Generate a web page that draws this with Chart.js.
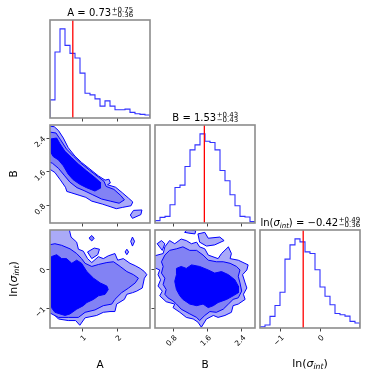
<!DOCTYPE html>
<html lang="en">
<head>
<meta charset="UTF-8">
<title>Corner plot</title>
<script src="https://cdn.jsdelivr.net/npm/chart.js"></script>
<style>
  body { margin: 0; background: #fff; }
  #wrap { position: relative; width: 380px; height: 380px; }
  #wrap canvas { position: absolute; left: 0; top: 0; }
</style>
</head>
<body>
<div id="wrap">
  <canvas id="histA" width="380" height="380"></canvas>
  <canvas id="histB" width="380" height="380"></canvas>
  <canvas id="histLn" width="380" height="380"></canvas>
  <canvas id="panelBA" width="380" height="380"></canvas>
  <canvas id="panelLnA" width="380" height="380"></canvas>
  <canvas id="panelLnB" width="380" height="380"></canvas>
</div>
<script>
// parameter ranges and ticks
const aRange = [0.08, 2.93];
const bRange = [0.38, 2.71];
const lnRange = [-1.5, 1.0];
const aTicks = [1, 2];
const bTicks = [0.8, 1.6, 2.4];
const lnTicks = [-1, 0];

// 1d histograms (20 bins over each range)
const aCounts = [55, 200, 270, 220, 196, 182, 136, 75, 70, 58, 36, 52, 36, 25, 25, 27, 17, 13, 11, 9];
const bCounts = [7, 17, 20, 55, 107, 114, 170, 220, 235, 268, 246, 242, 220, 158, 127, 85, 52, 20, 18, 4];
const lnCounts = [4, 9, 35, 68, 108, 208, 251, 269, 260, 230, 225, 176, 124, 96, 70, 44, 40, 36, 20, 15];

// medians and errors shown in the titles
const medians = [0.73, 1.53, -0.42];
const errUp = [0.75, 0.43, 0.49];
const errDown = [0.36, 0.43, 0.36];

// contour levels, [x, y] in data units
const baOuter = [[0.0,2.69],[0.20,2.67],[0.32,2.58],[0.46,2.40],[0.60,2.17],[0.79,1.97],[0.98,1.82],[1.22,1.66],[1.46,1.50],[1.65,1.40],[1.76,1.42],[1.80,1.33],[1.72,1.29],[1.95,1.23],[2.14,1.10],[2.32,0.97],[2.44,0.88],[2.39,0.79],[2.14,0.75],[1.97,0.72],[1.79,0.77],[1.57,0.83],[1.27,0.90],[1.10,0.99],[0.91,1.04],[0.68,1.10],[0.56,1.13],[0.52,1.23],[0.37,1.41],[0.22,1.58],[0.0,1.70]];
const baMid = [[0.0,2.55],[0.25,2.52],[0.38,2.36],[0.55,2.14],[0.75,1.97],[0.95,1.81],[1.20,1.64],[1.45,1.48],[1.62,1.37],[1.68,1.25],[1.90,1.18],[2.10,1.03],[2.20,0.93],[2.05,0.85],[1.80,0.90],[1.55,0.95],[1.30,1.05],[1.05,1.15],[0.85,1.22],[0.65,1.35],[0.50,1.50],[0.32,1.68],[0.15,1.80],[0.0,1.85]];
const baCore = [[0.11,2.38],[0.27,2.40],[0.36,2.27],[0.50,2.09],[0.70,1.93],[0.89,1.78],[1.12,1.62],[1.36,1.46],[1.51,1.35],[1.52,1.21],[1.36,1.14],[1.12,1.22],[0.93,1.30],[0.74,1.41],[0.60,1.54],[0.46,1.74],[0.32,1.88],[0.17,1.96],[0.11,2.05]];
const baIslands = [[[2.37,0.57],[2.46,0.68],[2.70,0.69],[2.67,0.58],[2.43,0.49]]];

const laOuter = [[0.0,1.05],[0.62,1.05],[0.68,0.82],[0.84,0.69],[0.89,0.51],[1.03,0.46],[1.15,0.27],[1.27,0.17],[1.46,0.32],[1.60,0.27],[1.74,0.34],[1.93,0.40],[2.01,0.23],[2.17,0.27],[2.36,0.15],[2.51,0.09],[2.65,0.02],[2.77,-0.06],[2.84,-0.14],[2.77,-0.23],[2.71,-0.48],[2.55,-0.56],[2.43,-0.60],[2.27,-0.64],[2.20,-0.77],[1.98,-0.89],[1.93,-1.08],[1.79,-1.08],[1.60,-1.10],[1.41,-1.18],[1.08,-1.24],[0.93,-1.43],[0.81,-1.31],[0.60,-1.31],[0.32,-1.27],[0.22,-1.18],[0.0,-0.98]];
const laMid = [[0.0,0.61],[0.22,0.65],[0.41,0.61],[0.65,0.52],[0.84,0.40],[0.98,0.27],[1.08,0.15],[1.27,0.07],[1.46,0.12],[1.70,0.17],[1.89,0.19],[2.08,0.07],[2.27,-0.06],[2.46,-0.14],[2.60,-0.23],[2.51,-0.35],[2.32,-0.48],[2.12,-0.60],[1.93,-0.77],[1.84,-0.89],[1.60,-0.93],[1.36,-1.04],[1.08,-1.10],[0.89,-1.23],[0.60,-1.23],[0.32,-1.23],[0.17,-1.16],[0.0,-1.08]];
const laCore = [[0.12,0.32],[0.27,0.37],[0.41,0.27],[0.55,0.27],[0.70,0.15],[0.84,0.23],[0.98,0.15],[1.13,-0.06],[1.32,-0.23],[1.51,-0.35],[1.70,-0.43],[1.74,-0.52],[1.65,-0.64],[1.46,-0.68],[1.32,-0.77],[1.13,-0.85],[1.03,-0.93],[0.84,-1.02],[0.65,-1.14],[0.51,-1.18],[0.36,-1.14],[0.22,-1.10],[0.12,-0.98]];
const laIslands = [
  [[1.15,0.44],[1.34,0.54],[1.49,0.51],[1.44,0.37],[1.27,0.27]],
  [[2.38,0.71],[2.43,0.82],[2.49,0.71],[2.43,0.59]],
  [[2.22,0.44],[2.27,0.51],[2.32,0.44],[2.27,0.37]]
];
const laSpots = [[[1.19,0.79],[1.27,0.86],[1.34,0.79],[1.27,0.72]]];

const lbOuter = [[0.30,0.32],[0.57,0.40],[0.61,0.57],[0.72,0.73],[0.84,0.65],[0.99,0.77],[1.11,0.73],[1.23,0.65],[1.35,0.69],[1.42,0.57],[1.54,0.52],[1.62,0.36],[1.85,0.27],[1.93,0.40],[2.09,0.57],[2.16,0.40],[2.13,0.27],[2.32,0.23],[2.55,0.11],[2.52,-0.02],[2.42,-0.14],[2.48,-0.35],[2.52,-0.48],[2.44,-0.64],[2.48,-0.77],[2.32,-0.89],[2.20,-0.93],[2.16,-1.10],[2.01,-1.18],[1.85,-1.23],[1.74,-1.18],[1.58,-1.27],[1.46,-1.48],[1.38,-1.35],[1.27,-1.27],[1.11,-1.23],[0.96,-1.10],[0.80,-0.98],[0.84,-0.89],[0.64,-0.83],[0.49,-0.68],[0.55,-0.56],[0.45,-0.43],[0.51,-0.27],[0.45,-0.14],[0.49,-0.02],[0.30,0.07]];
const lbMid = [[0.53,0.19],[0.61,0.36],[0.72,0.48],[0.88,0.52],[1.03,0.57],[1.19,0.48],[1.35,0.48],[1.50,0.36],[1.62,0.23],[1.81,0.19],[1.97,0.19],[2.13,0.15],[2.28,0.07],[2.36,-0.02],[2.32,-0.18],[2.36,-0.35],[2.40,-0.56],[2.32,-0.73],[2.20,-0.77],[2.09,-0.89],[1.97,-1.02],[1.81,-1.10],[1.66,-1.08],[1.54,-1.18],[1.42,-1.31],[1.35,-1.23],[1.19,-1.14],[0.99,-1.02],[0.88,-0.89],[0.80,-0.81],[0.68,-0.73],[0.61,-0.64],[0.64,-0.52],[0.57,-0.39],[0.61,-0.23],[0.53,-0.10],[0.57,0.07]];
const lbCore = [[0.88,0.02],[0.99,0.07],[1.11,0.02],[1.23,0.11],[1.42,0.07],[1.62,-0.02],[1.77,-0.10],[1.93,-0.06],[2.09,-0.14],[2.24,-0.27],[2.32,-0.43],[2.32,-0.60],[2.20,-0.68],[2.05,-0.77],[1.85,-0.85],[1.74,-0.93],[1.62,-0.98],[1.50,-0.89],[1.35,-0.93],[1.19,-0.89],[1.03,-0.77],[0.96,-0.68],[0.88,-0.52],[0.84,-0.31],[0.88,-0.14]];
const lbIslands = [
  [[0.43,0.65],[0.53,0.73],[0.61,0.65],[0.55,0.48]],
  [[1.07,0.94],[1.13,1.01],[1.33,0.98],[1.31,0.90],[1.17,0.92]],
  [[1.38,0.90],[1.54,0.94],[1.62,0.79],[1.89,0.82],[1.99,0.73],[1.77,0.62],[1.58,0.59],[1.42,0.69]]
];

// layout of the 3x3 grid (panel boxes in px)
const COLS = [[50, 150], [155, 255], [260, 360]];
const ROWS = [[20, 118], [125, 223], [230, 328]];
const TICK = 3.5;
const FONT = '"DejaVu Sans"';
const LIGHT = '#aaaaf8', MID = '#8282f4', DARK = '#0000ff';

Chart.defaults.font.family = FONT;

const fmt = v => (v < 0 ? '\u2212' : '') + Math.abs(v);
const fmt2 = v => (v < 0 ? '\u2212' : '') + Math.abs(v).toFixed(2);
const LN = [['ln(', 'r'], ['\u03c3', 'i'], ['int', 's'], [')', 'r']];

function partsWidth(ctx, parts, size) {
  let w = 0;
  parts.forEach(([t, st]) => {
    ctx.font = (st === 'r' ? '' : 'italic ') + (st === 's' ? size * 0.7 : size) + 'px ' + FONT;
    w += ctx.measureText(t).width;
  });
  return w;
}
function drawParts(ctx, parts, x, y, size, shift) {
  ctx.textAlign = 'left';
  parts.forEach(([t, st]) => {
    ctx.font = (st === 'r' ? '' : 'italic ') + (st === 's' ? size * 0.7 : size) + 'px ' + FONT;
    ctx.fillText(t, x, y + (st === 's' ? shift : 0));
    x += ctx.measureText(t).width;
  });
  return x;
}

const framePlugin = {
  id: 'frame',
  afterDatasetsDraw(chart) {
    const { ctx, chartArea: a } = chart;
    ctx.save();
    ctx.strokeStyle = '#8c8c8c';
    ctx.lineWidth = 1.6;
    ctx.strokeRect(a.left, a.top, a.right - a.left, a.bottom - a.top);
    ctx.restore();
  }
};

const mathPlugin = {
  id: 'mathText',
  afterDraw(chart, args, opts) {
    const { ctx, chartArea: a } = chart;
    ctx.save();
    ctx.fillStyle = '#000';
    for (const it of opts.items || []) {
      if (it.kind === 'title') {
        const size = 10, small = 7;
        const wMain = partsWidth(ctx, it.main, size);
        ctx.font = small + 'px ' + FONT;
        const wScr = Math.max(ctx.measureText(it.sup).width, ctx.measureText(it.sub).width);
        const y = a.top - 4.5;
        ctx.textBaseline = 'alphabetic';
        let x = drawParts(ctx, it.main, (a.left + a.right) / 2 - (wMain + wScr) / 2, y, size, 2);
        ctx.font = small + 'px ' + FONT;
        ctx.fillText(it.sup, x + 0.5, y - 4);
        ctx.fillText(it.sub, x + 0.5, y + 1.8);
      } else {
        const size = 11;
        const w = partsWidth(ctx, it.parts, size);
        ctx.save();
        if (it.kind === 'xlabel') {
          ctx.translate((a.left + a.right) / 2, a.bottom + it.offset);
        } else {
          ctx.translate(a.left - it.offset, (a.top + a.bottom) / 2);
          ctx.rotate(-Math.PI / 2);
        }
        ctx.textBaseline = 'middle';
        drawParts(ctx, it.parts, -w / 2, 0, size, 3);
        ctx.restore();
      }
    }
    ctx.restore();
  }
};

function axis(pos, range, ticks, o) {
  return {
    type: 'linear', position: pos, min: range[0], max: range[1],
    afterBuildTicks: s => { s.ticks = ticks.map(v => ({ value: v })); },
    afterFit: s => { if (pos === 'bottom') s.height = o.size; else s.width = o.size; },
    grid: { display: true, drawOnChartArea: false, drawTicks: true, tickLength: TICK, tickColor: '#444', tickWidth: 1 },
    border: { display: false },
    ticks: {
      display: !!o.labels, autoSkip: false, minRotation: 45, maxRotation: 45,
      padding: 2, labelOffset: o.labelOffset || 0,
      font: { size: 7.5 }, color: '#000', callback: v => fmt(v)
    },
    title: o.title
      ? { display: true, text: o.title, color: '#000', font: { size: 10.5 }, padding: { top: 7.7, bottom: 8.7 } }
      : { display: false }
  };
}

function poly(pts, color, order) {
  return {
    data: pts.concat([pts[0]]).map(([x, y]) => ({ x, y })),
    fill: 'shape', backgroundColor: color, borderColor: DARK, borderWidth: 1,
    pointRadius: 0, order
  };
}
function contours(outer, mid, core, islands, spots) {
  const ds = [poly(core, DARK, 1), poly(mid, MID, 2), poly(outer, LIGHT, 3)];
  (islands || []).forEach(p => ds.push(poly(p, LIGHT, 4)));
  (spots || []).forEach(p => ds.push(poly(p, MID, 4)));
  return ds;
}
function stepHist(counts, range) {
  const w = (range[1] - range[0]) / counts.length;
  const data = [{ x: range[0], y: 0 }];
  counts.forEach((c, i) => data.push({ x: range[0] + i * w, y: c }));
  data.push({ x: range[1], y: counts[counts.length - 1] }, { x: range[1], y: 0 });
  return { data, stepped: true, borderColor: '#3333ff', borderWidth: 1.1, pointRadius: 0, fill: false, order: 2 };
}
function vline(x, top) {
  return { data: [{ x, y: 0 }, { x, y: top }], borderColor: '#ff0000', borderWidth: 1.3, pointRadius: 0, fill: false, order: 1 };
}

function panel(id, col, row, xAx, yAx, datasets, items) {
  const leftW = yAx.display === false ? 0 : yAx.__size;
  const botH = xAx.__size;
  new Chart(document.getElementById(id), {
    type: 'line',
    data: { datasets },
    options: {
      responsive: false, animation: false, events: [],
      layout: { padding: {
        left: COLS[col][0] - leftW, right: 380 - COLS[col][1],
        top: ROWS[row][0], bottom: 380 - ROWS[row][1] - botH
      } },
      scales: { x: xAx, y: yAx },
      plugins: { legend: { display: false }, tooltip: { enabled: false }, mathText: { items: items || [] } }
    },
    plugins: [framePlugin, mathPlugin]
  });
}

function ax(pos, range, ticks, o) {
  const a = axis(pos, range, ticks, o);
  a.__size = o.size;
  return a;
}
function histY(counts) {
  return { display: false, min: 0, max: Math.max(...counts) * 1.1 };
}
function title(i, main) {
  return { kind: 'title', main, sup: '+' + errUp[i].toFixed(2), sub: '\u2212' + errDown[i].toFixed(2) };
}

const LOW = 380 - ROWS[2][1];

// diagonal
panel('histA', 0, 0,
  ax('bottom', aRange, aTicks, { size: TICK }), histY(aCounts),
  [vline(medians[0], Math.max(...aCounts) * 1.1), stepHist(aCounts, aRange)],
  [title(0, [['A = ' + fmt2(medians[0]), 'r']])]);
panel('histB', 1, 1,
  ax('bottom', bRange, bTicks, { size: TICK }), histY(bCounts),
  [vline(medians[1], Math.max(...bCounts) * 1.1), stepHist(bCounts, bRange)],
  [title(1, [['B = ' + fmt2(medians[1]), 'r']])]);
panel('histLn', 2, 2,
  ax('bottom', lnRange, lnTicks, { size: LOW, labels: true, labelOffset: 3 }), histY(lnCounts),
  [vline(medians[2], Math.max(...lnCounts) * 1.1), stepHist(lnCounts, lnRange)],
  [title(2, LN.concat([[' = ' + fmt2(medians[2]), 'r']])), { kind: 'xlabel', parts: LN, offset: 36 }]);

// off-diagonal
panel('panelBA', 0, 1,
  ax('bottom', aRange, aTicks, { size: TICK }),
  ax('left', bRange, bTicks, { size: COLS[0][0], labels: true, title: 'B' }),
  contours(baOuter, baMid, baCore, baIslands));
panel('panelLnA', 0, 2,
  ax('bottom', aRange, aTicks, { size: LOW, labels: true, labelOffset: 3, title: 'A' }),
  ax('left', lnRange, lnTicks, { size: COLS[0][0], labels: true }),
  contours(laOuter, laMid, laCore, laIslands, laSpots),
  [{ kind: 'ylabel', parts: LN, offset: 36 }]);
panel('panelLnB', 1, 2,
  ax('bottom', bRange, bTicks, { size: LOW, labels: true, labelOffset: 3, title: 'B' }),
  ax('left', lnRange, lnTicks, { size: TICK }),
  contours(lbOuter, lbMid, lbCore, lbIslands));
</script>
</body>
</html>
